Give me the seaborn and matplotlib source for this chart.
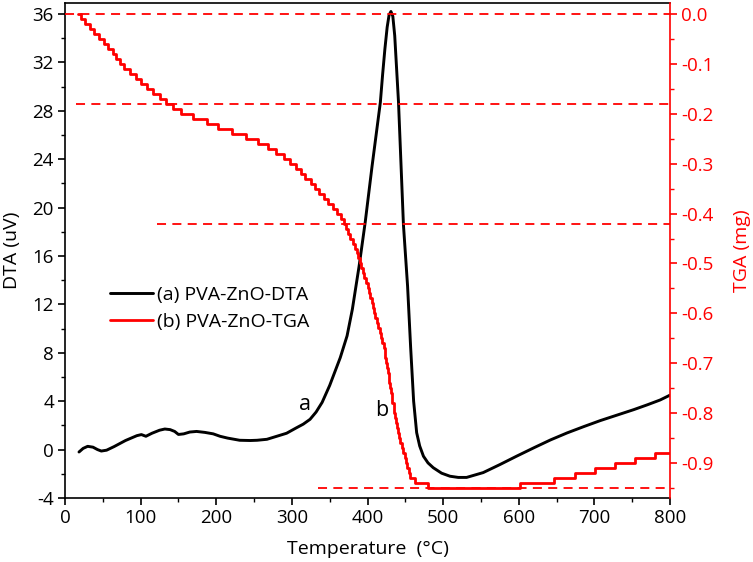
import matplotlib
matplotlib.use("Agg")
import matplotlib.pyplot as plt
import seaborn as sns
import pandas as pd
from matplotlib.ticker import MultipleLocator, FormatStrFormatter

# ---------------- data ----------------
dta_temp = [18.5, 24, 30, 37, 43, 48, 55, 65, 80, 95, 101, 107, 115, 125, 132, 139, 145,
            150, 157, 165, 174, 185, 196, 205, 215, 231, 245, 254, 267, 280, 293, 306,
            315, 324, 332, 340, 350, 364, 373, 380, 389, 397, 406, 417, 420, 423, 426, 428.5, 431,
            433.5, 436, 438, 441, 447.5, 453, 457, 461, 465, 469, 474, 480, 487, 498, 509, 520,
            531, 553, 575, 597, 620, 642, 664, 686, 708, 730, 752, 770, 787, 800]
dta_uv = [-0.2, 0.1, 0.27, 0.2, 0.0, -0.12, -0.05, 0.25, 0.75, 1.15, 1.24, 1.1, 1.35, 1.6, 1.7,
          1.65, 1.5, 1.25, 1.3, 1.45, 1.5, 1.42, 1.3, 1.1, 0.95, 0.77, 0.75, 0.77, 0.85, 1.1,
          1.35, 1.8, 2.1, 2.5, 3.1, 3.9, 5.3, 7.6, 9.4, 11.6, 15.2, 18.8, 23.4, 28.7, 31.0, 33.1,
          34.9, 35.9, 36.2, 35.8, 34.2, 32.0, 28.7, 18.6, 13.5, 8.5, 4.0, 1.4, 0.3, -0.55, -1.1,
          -1.5, -1.95, -2.2, -2.3, -2.3, -1.9, -1.24, -0.55, 0.15, 0.8, 1.38, 1.9, 2.4, 2.85,
          3.3, 3.7, 4.1, 4.5]

tga_temp = [17, 21, 27, 33, 39, 45, 51, 57, 63, 68, 73, 78.5, 86, 93.5, 101, 108, 116, 125,
            134, 143, 154, 169, 188, 202, 221, 239, 255, 268, 279, 289, 297, 305, 312, 318,
            325, 330, 336, 342, 348, 354.5, 360, 364.5, 368.5, 371.5, 374.5, 377.5, 380.5,
            383.5, 386, 388, 390, 392, 394, 396, 398, 400, 401.5, 403.5, 405.5, 407, 409,
            410.5, 412.5, 414.5, 416, 418, 419.5, 421.5, 422.5, 423.5, 424.5, 425.5, 426.5,
            428, 429, 430, 431, 432, 433, 434.5, 435.5, 437, 438, 439.5, 440.5, 442, 443,
            445, 447, 449, 450.5, 452.5, 454.5, 456.5, 463, 480.5, 602, 646, 674.5, 701,
            727.5, 754, 780, 800]
tga_mg = [0.00, -0.01, -0.02, -0.03, -0.04, -0.05, -0.06, -0.07, -0.08, -0.09, -0.10, -0.11,
          -0.12, -0.13, -0.14, -0.15, -0.16, -0.17, -0.18, -0.19, -0.20, -0.21, -0.22, -0.23,
          -0.24, -0.25, -0.26, -0.27, -0.28, -0.29, -0.30, -0.31, -0.32, -0.33, -0.34, -0.35,
          -0.36, -0.37, -0.38, -0.39, -0.40, -0.41, -0.42, -0.43, -0.44, -0.45, -0.46, -0.47,
          -0.48, -0.49, -0.50, -0.51, -0.52, -0.53, -0.54, -0.55, -0.56, -0.57, -0.58, -0.59,
          -0.60, -0.61, -0.62, -0.63, -0.64, -0.65, -0.66, -0.67, -0.68, -0.69, -0.70, -0.71,
          -0.72, -0.73, -0.74, -0.75, -0.76, -0.77, -0.78, -0.79, -0.80, -0.81, -0.82, -0.83,
          -0.84, -0.85, -0.86, -0.87, -0.88, -0.89, -0.90, -0.91, -0.92, -0.93, -0.94, -0.95,
          -0.94, -0.93, -0.92, -0.91, -0.90, -0.89, -0.88, -0.88]

ref_levels = [0.0, -0.18, -0.42, -0.95]
ref_start = [0, 15, 122, 335]
ref_end = [800, 800, 800, 800]

x_ticks = [0, 100, 200, 300, 400, 500, 600, 700, 800]
dta_ticks = [-4, 0, 4, 8, 12, 16, 20, 24, 28, 32, 36]
tga_ticks = [0.0, -0.1, -0.2, -0.3, -0.4, -0.5, -0.6, -0.7, -0.8, -0.9]

labels = ["(a) PVA-ZnO-DTA", "(b) PVA-ZnO-TGA"]

# ---------------- style ----------------
sns.set_style("ticks")
plt.rcParams["font.family"] = ["Open Sans", "DejaVu Sans"]
plt.rcParams["axes.unicode_minus"] = False
plt.rcParams["text.color"] = "black"
plt.rcParams["axes.labelcolor"] = "black"
plt.rcParams["xtick.color"] = "black"
plt.rcParams["ytick.color"] = "black"

RED = "#ff0000"

fig = plt.figure(figsize=(7.53, 5.62), dpi=100)
ax = fig.add_axes([65 / 753, 1 - 498 / 562, 605 / 753, 495 / 562])
ax2 = ax.twinx()

dta_df = pd.DataFrame({"T": dta_temp, "DTA": dta_uv})
tga_df = pd.DataFrame({"T": tga_temp, "TGA": tga_mg})

sns.lineplot(data=dta_df, x="T", y="DTA", ax=ax, color="black", lw=2.1,
             estimator=None, sort=False, legend=False, zorder=3)
sns.lineplot(data=tga_df, x="T", y="TGA", ax=ax2, color=RED, lw=2.0,
             estimator=None, sort=False, drawstyle="steps-post", legend=False, zorder=3)

for lvl, x0, x1 in zip(ref_levels, ref_start, ref_end):
    ax2.hlines(lvl, x0, x1, colors=RED, linestyles=(0, (5, 3.5)), lw=1.3, zorder=2)

ax.set_xlim(0, 800)
ax.set_ylim(-4, 36.9)
ax2.set_ylim(-0.97, 0.022)

ax.set_xticks(x_ticks)
ax.set_yticks(dta_ticks)
ax2.set_yticks(tga_ticks)
ax.xaxis.set_minor_locator(MultipleLocator(50))
ax.yaxis.set_minor_locator(MultipleLocator(2))
ax2.yaxis.set_minor_locator(MultipleLocator(0.05))
ax2.yaxis.set_major_formatter(FormatStrFormatter("%.1f"))

ax.tick_params(axis="both", which="major", length=5, width=1.2, labelsize=13.5,
               color="black", labelcolor="black", pad=3)
ax.tick_params(axis="both", which="minor", length=3, width=1.0, color="black")
ax2.tick_params(axis="y", which="major", length=5, width=1.2, labelsize=13.5,
                colors=RED, pad=3)
ax2.tick_params(axis="y", which="minor", length=3, width=1.0, colors=RED)

for sp in ["left", "bottom", "top"]:
    ax.spines[sp].set_linewidth(1.2)
    ax.spines[sp].set_color("black")
ax2.spines["right"].set_color(RED)
ax2.spines["right"].set_linewidth(1.2)
ax2.spines["left"].set_visible(False)
ax2.spines["top"].set_visible(False)
ax2.spines["bottom"].set_visible(False)
ax.spines["right"].set_visible(False)

ax.set_xlabel("Temperature  (°C)", fontsize=14, labelpad=9)
ax.set_ylabel("DTA (uV)", fontsize=14, labelpad=8)
ax2.set_ylabel("TGA (mg)", fontsize=14, color=RED, labelpad=14)

ax.text(317.5, 3.3, "a", fontsize=15.5, ha="center", va="baseline")
ax2.text(419, -0.806, "b", fontsize=15.5, ha="center", va="baseline")

h1 = ax.get_lines()[0]
h2 = ax2.get_lines()[0]
ax2.legend([h1, h2], labels, loc="center left", bbox_to_anchor=(0.074, 0.383),
           frameon=False, fontsize=14, handlelength=2.2, handletextpad=0.25,
           borderaxespad=0, borderpad=0, labelspacing=0.45)

fig.savefig("out.png", dpi=100)
